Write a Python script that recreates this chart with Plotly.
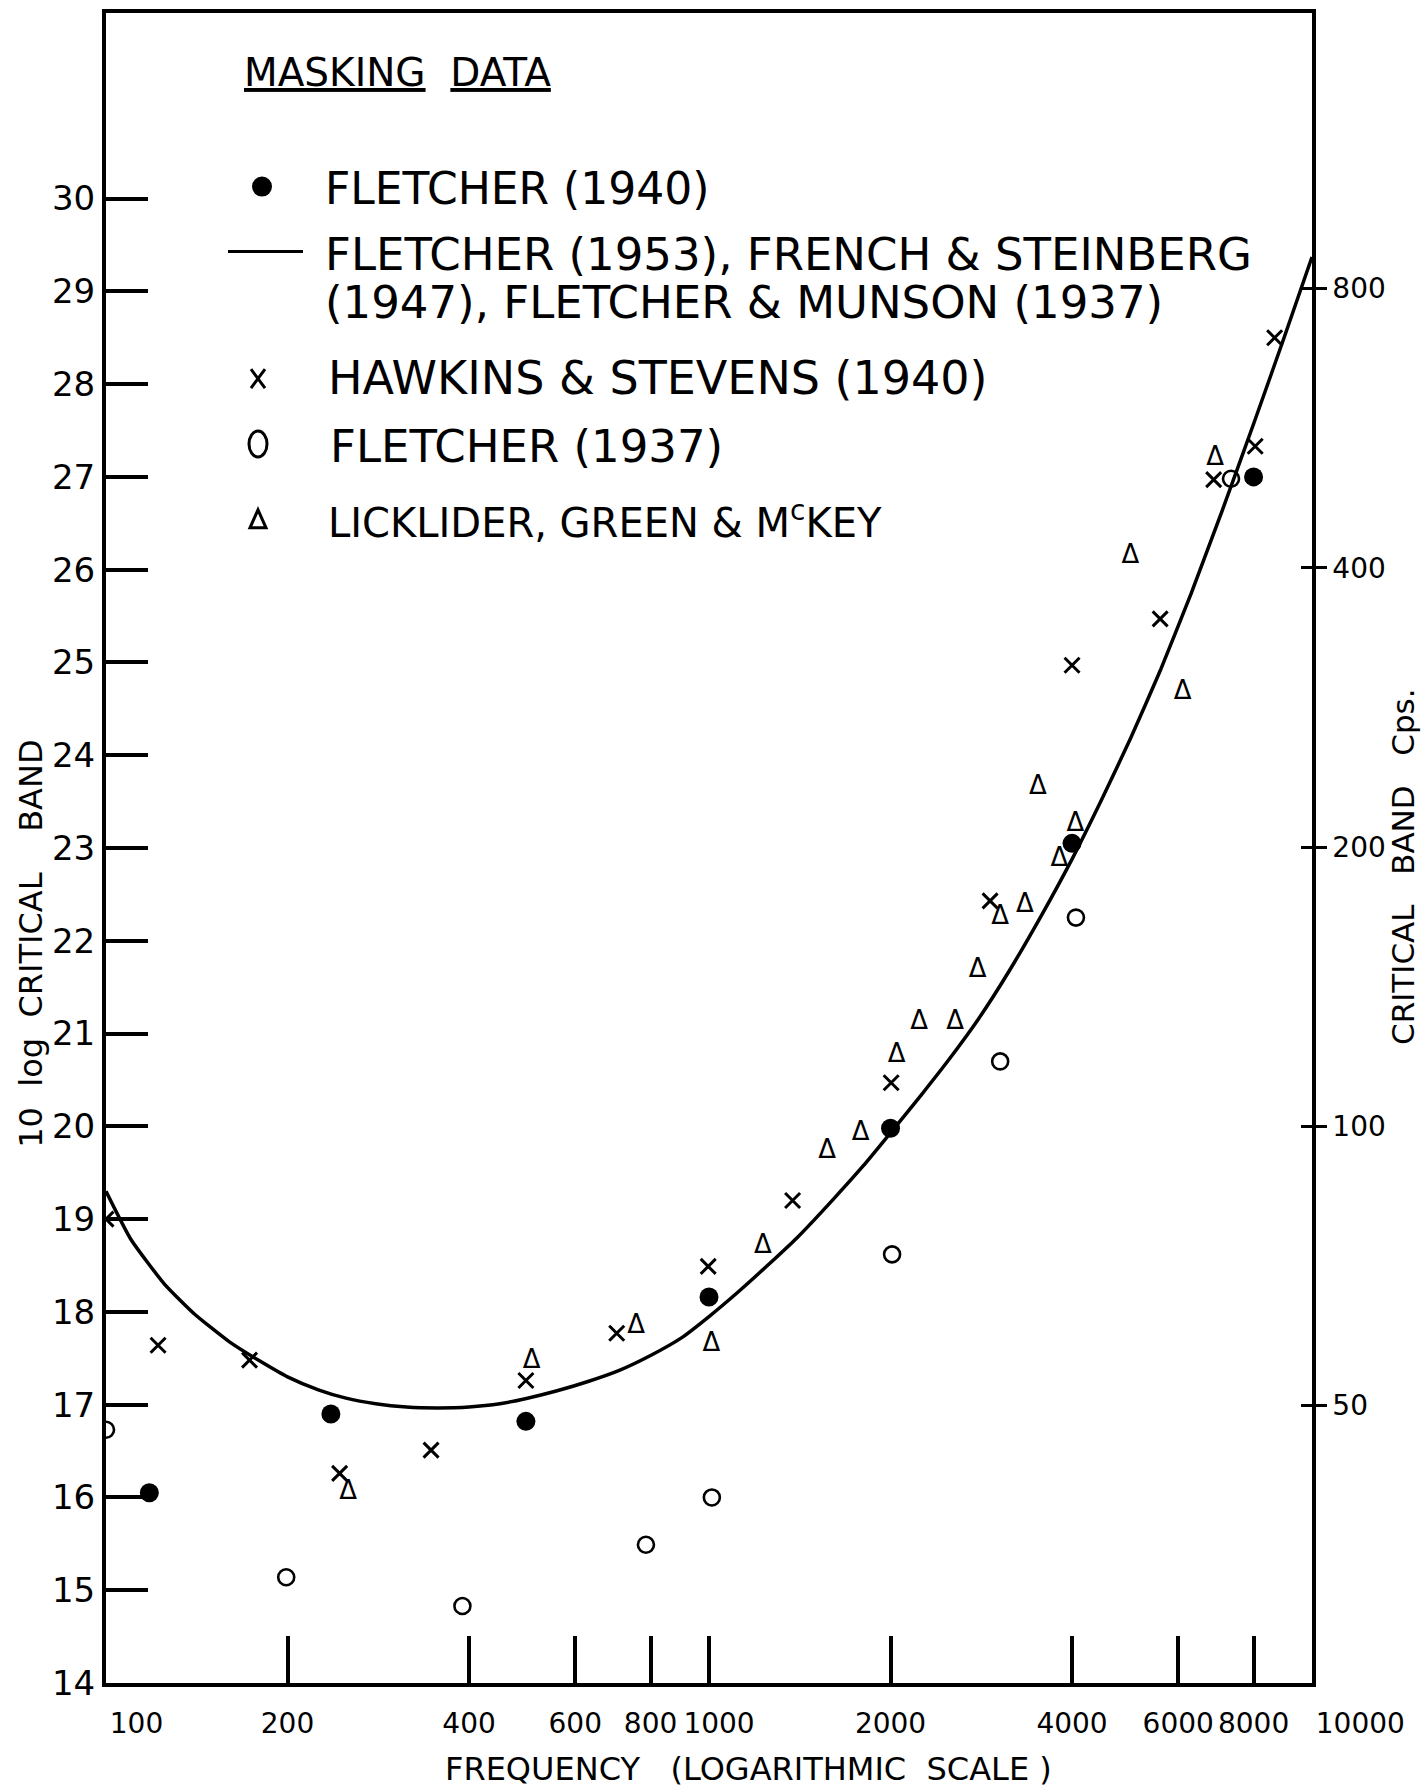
import math
import plotly.graph_objects as go

# ---- data (frequency in c/s, value in 10 log critical band) ----
# Fletcher (1940) - solid circles
fletcher_1940_freq = [118, 236, 497, 1000, 2000, 4000, 8000]
fletcher_1940_db = [16.05, 16.9, 16.82, 18.16, 19.98, 23.05, 27.0]

# Fletcher (1953), French & Steinberg (1947), Fletcher & Munson (1937) - smooth curve
curve_freq = [100, 110, 125, 140, 160, 180, 200, 225, 250, 280, 315, 355, 400,
              450, 500, 560, 630, 710, 800, 900, 1000, 1120, 1250, 1400, 1600,
              1800, 2000, 2250, 2500, 2800, 3150, 3550, 4000, 4500, 5000, 5600,
              6300, 7100, 8000, 9000, 10000]
curve_db = [19.3, 18.78, 18.3, 17.98, 17.68, 17.47, 17.3, 17.16, 17.07, 17.01,
            16.975, 16.965, 16.975, 17.01, 17.07, 17.15, 17.25, 17.37, 17.53,
            17.72, 17.95, 18.22, 18.5, 18.8, 19.2, 19.57, 19.93, 20.34, 20.72,
            21.16, 21.68, 22.26, 22.88, 23.55, 24.18, 24.91, 25.74, 26.64,
            27.57, 28.51, 29.37]

# Hawkins & Stevens (1940) - crosses
hawkins_freq = [100, 122, 173, 244, 346, 497, 703, 997, 1376, 2005, 2925,
                4000, 5600, 6870, 8050, 8670]
hawkins_db = [19.0, 17.64, 17.48, 16.26, 16.51, 17.26, 17.77, 18.49, 19.2,
              20.47, 22.43, 24.97, 25.47, 26.97, 27.33, 28.5]

# Fletcher (1937) - open circles
fletcher_1937_freq = [100, 199, 390, 786, 1011, 2012, 3040, 4060, 7340]
fletcher_1937_db = [16.73, 15.14, 14.83, 15.49, 16.0, 18.62, 20.7, 22.25, 26.98]

# Licklider, Green & McKey - triangles
licklider_freq = [252, 508, 757, 1009, 1228, 1570, 1785, 2047, 2230, 2560,
                  2790, 3040, 3340, 3510, 3810, 4050, 5000, 6100, 6910]
licklider_db = [16.05, 17.47, 17.84, 17.65, 18.71, 19.73, 19.92, 20.76, 21.12,
                21.12, 21.68, 22.25, 22.38, 23.65, 22.88, 23.25, 26.14, 24.68,
                27.2]

# ---- axis ticks ----
freq_ticks = [100, 200, 400, 600, 800, 1000, 2000, 4000, 6000, 8000, 10000]
level_ticks = list(range(14, 31))
band_cps_ticks = [25, 50, 100, 200, 400, 800]

FONT = "DejaVu Sans"
INK = "black"
NB = "\u00a0"
W, H = 1427, 1792
ML, MR, MT, MB = 106, 115, 9, 109
X_RANGE = [2, 4]
Y_RANGE = [14, 32]


def px(x):
    return (x - ML) / (W - ML - MR)


def py(y):
    return 1 - (y - MT) / (H - MT - MB)


# the two end labels start at their tick; the 1000 label is nudged right
end_ticks = [f for f in freq_ticks if f in (freq_ticks[0], freq_ticks[-1])]
shifted_ticks = [1000]
centred_ticks = [f for f in freq_ticks if f not in end_ticks + shifted_ticks]

fig = go.Figure()

fig.add_trace(go.Scatter(
    x=curve_freq, y=curve_db, mode="lines", xaxis="x2", yaxis="y2",
    line=dict(color=INK, width=3.5, shape="spline", smoothing=0.5),
    name="FLETCHER (1953), FRENCH & STEINBERG (1947), FLETCHER & MUNSON (1937)",
))
fig.add_trace(go.Scatter(
    x=fletcher_1940_freq, y=fletcher_1940_db, mode="markers",
    marker=dict(symbol="circle", size=19, color=INK, line=dict(width=0)),
    name="FLETCHER (1940)",
))
fig.add_trace(go.Scatter(
    x=hawkins_freq, y=hawkins_db, mode="markers", xaxis="x3", yaxis="y3",
    marker=dict(symbol="x-thin-open", size=15, color=INK,
                line=dict(width=3, color=INK)),
    name="HAWKINS & STEVENS (1940)",
))
fig.add_trace(go.Scatter(
    x=fletcher_1937_freq, y=fletcher_1937_db, mode="markers",
    marker=dict(symbol="circle-open", size=16, color=INK,
                line=dict(width=2.6, color=INK)),
    name="FLETCHER (1937)",
))
fig.add_trace(go.Scatter(
    x=licklider_freq, y=licklider_db, mode="text",
    text=["\u0394"] * len(licklider_freq), textposition="middle center",
    textfont=dict(family=FONT, size=26, color=INK),
    name="LICKLIDER, GREEN & McKEY",
))

# ---- key drawn inside the plot area ----
shapes = [
    dict(type="circle", xref="paper", yref="paper",
         x0=px(252), x1=px(272), y0=py(193), y1=py(173),
         fillcolor=INK, line=dict(width=0)),
    dict(type="line", xref="paper", yref="paper",
         x0=px(228), x1=px(303), y0=py(248), y1=py(248),
         line=dict(color=INK, width=3)),
    dict(type="line", xref="paper", yref="paper",
         x0=px(251), x1=px(265), y0=py(366), y1=py(385),
         line=dict(color=INK, width=3)),
    dict(type="line", xref="paper", yref="paper",
         x0=px(251), x1=px(265), y0=py(385), y1=py(366),
         line=dict(color=INK, width=3)),
    dict(type="circle", xref="paper", yref="paper",
         x0=px(249), x1=px(267), y0=py(454), y1=py(428),
         line=dict(color=INK, width=3)),
    dict(type="path", xref="paper", yref="paper",
         path=f"M {px(250)},{py(525)} L {px(266)},{py(525)} L {px(258)},{py(507)} Z",
         line=dict(color=INK, width=3)),
]

key_texts = [
    ("<u>MASKING</u>" + NB * 2 + "<u>DATA</u>", 242, 69, 39),
    ("FLETCHER (1940)", 323, 185, 44),
    ("FLETCHER (1953), FRENCH &amp; STEINBERG", 323, 251, 45),
    ("(1947), FLETCHER &amp; MUNSON (1937)", 323, 299, 45),
    ("HAWKINS &amp; STEVENS (1940)", 326, 375, 46),
    ("FLETCHER (1937)", 328, 444, 45),
    ("LICKLIDER, GREEN &amp; M<sup>c</sup>KEY", 326, 517, 40),
]
annotations = []
for txt, x, y, size in key_texts:
    annotations.append(dict(
        text=txt, xref="paper", yref="paper", x=px(x), y=py(y),
        xanchor="left", yanchor="middle", showarrow=False,
        font=dict(family=FONT, size=size, color=INK),
    ))

# axis titles
annotations += [
    dict(text="FREQUENCY" + NB * 3 + "(LOGARITHMIC" + NB * 2 + "SCALE" + NB + ")",
         xref="paper", yref="paper", x=px(748), y=py(1769),
         xanchor="center", yanchor="middle", showarrow=False,
         font=dict(family=FONT, size=32, color=INK)),
    dict(text="10" + NB * 2 + "log" + NB * 2 + "CRITICAL" + NB * 4 + "BAND",
         xref="paper", yref="paper", x=px(31), y=py(942), textangle=-90,
         xanchor="center", yanchor="middle", showarrow=False,
         font=dict(family=FONT, size=32, color=INK)),
    dict(text="CRITICAL" + NB * 3 + "BAND" + NB * 3 + "Cps.",
         xref="paper", yref="paper", x=px(1403), y=py(865), textangle=-90,
         xanchor="center", yanchor="middle", showarrow=False,
         font=dict(family=FONT, size=31, color=INK)),
]

band_tickvals = [10 * math.log10(v) for v in band_cps_ticks]
x_tickfont = dict(family=FONT, size=28, color=INK)
x_common = dict(type="log", range=X_RANGE, showgrid=False, zeroline=False,
                tickangle=0, tickfont=x_tickfont, ticklabelstandoff=12,
                ticks="inside", ticklen=47, tickwidth=3.5, tickcolor=INK,
                showline=True, linewidth=4, linecolor=INK)

fig.update_layout(
    width=W, height=H,
    margin=dict(l=ML, r=MR, t=MT, b=MB, pad=0),
    paper_bgcolor="white", plot_bgcolor="white",
    showlegend=False,
    font=dict(family=FONT, color=INK),
    shapes=shapes,
    annotations=annotations,
    xaxis=dict(
        x_common,
        tickvals=centred_ticks, ticktext=[str(v) for v in centred_ticks],
        mirror=True,
    ),
    xaxis2=dict(
        x_common, overlaying="x", anchor="y", side="bottom",
        tickvals=end_ticks, ticktext=[str(v) for v in end_ticks],
        ticklabelposition="outside right",
    ),
    xaxis3=dict(
        x_common, overlaying="x", anchor="y", side="bottom",
        tickvals=shifted_ticks, ticktext=[str(v) for v in shifted_ticks],
        ticklabelshift=10,
    ),
    yaxis=dict(
        range=Y_RANGE, tickvals=level_ticks,
        ticktext=[str(v) for v in level_ticks],
        ticks="inside", ticklen=42, tickwidth=4, tickcolor=INK,
        showline=True, linewidth=4, linecolor=INK,
        showgrid=False, zeroline=False,
        tickfont=dict(family=FONT, size=34, color=INK),
    ),
    yaxis2=dict(
        overlaying="y", side="right", anchor="x", range=Y_RANGE,
        tickvals=band_tickvals, ticktext=[str(v) for v in band_cps_ticks],
        ticks="outside", ticklen=11, tickwidth=3, tickcolor=INK,
        showline=True, linewidth=3.5, linecolor=INK,
        showgrid=False, zeroline=False,
        tickfont=dict(family=FONT, size=28, color=INK),
    ),
    yaxis3=dict(
        overlaying="y", side="right", anchor="x", range=Y_RANGE,
        tickvals=band_tickvals, ticks="inside", ticklen=11, tickwidth=3,
        tickcolor=INK, showticklabels=False, showline=False,
        showgrid=False, zeroline=False,
    ),
)

fig.write_html("out.html")
